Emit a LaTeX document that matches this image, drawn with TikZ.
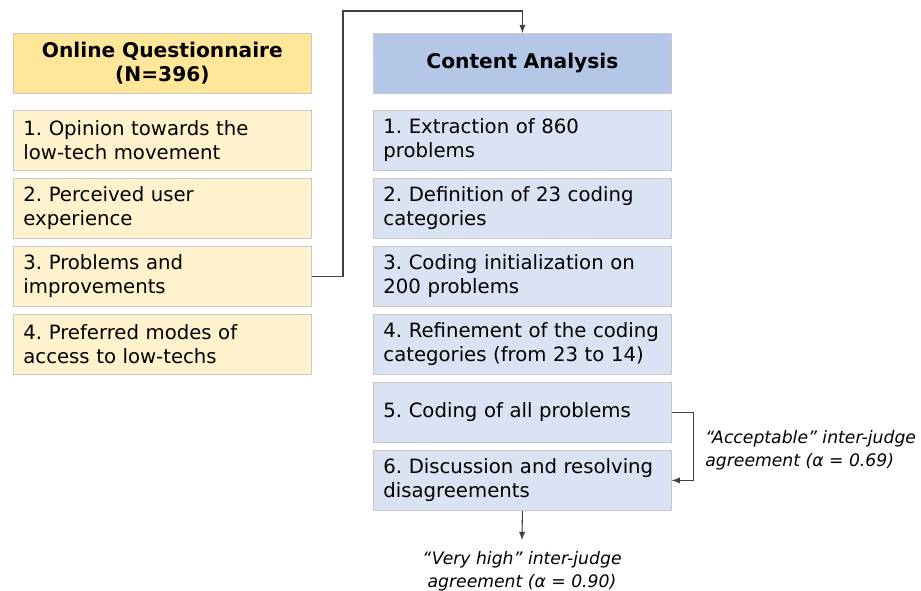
\documentclass[tikz,border=0pt]{standalone}
\usepackage{fontspec}
\setmainfont{DejaVu Sans}
\usetikzlibrary{arrows}
\definecolor{qhead}{HTML}{FFE699}
\definecolor{qitem}{HTML}{FFF2CC}
\definecolor{chead}{HTML}{B4C7E7}
\definecolor{citem}{HTML}{DAE3F3}
\definecolor{boxline}{HTML}{C9C9C9}
\definecolor{linkline}{HTML}{404040}
\frenchspacing
\begin{document}
\begin{tikzpicture}[>=latex,x=0.02cm,y=-0.02cm,
  box/.style={draw=boxline,line width=0.5pt,anchor=north west,minimum width=5.96cm,minimum height=1.2cm,
    inner xsep=0.2cm,font=\fontsize{11.2}{13.7}\selectfont},
  head/.style={box,align=center,text width=5.56cm,font=\fontsize{11.5}{13.7}\selectfont\bfseries},
  item/.style={box,align=left,text width=5.56cm},
  link/.style={draw=linkline,line width=0.6pt},
  note/.style={font=\fontsize{9.8}{13}\selectfont\itshape,inner sep=0pt}]
\useasboundingbox (0,0) rectangle (921,591);
\node[head,fill=qhead] (q0) at (13,33) {Online Questionnaire\\(N=396)};
\node[head,fill=chead] (c0) at (373,33) {Content Analysis};
\foreach \i/\txt in {1/{1. Opinion towards the\\low-tech movement},
    2/{2. Perceived user\\experience},
    3/{3. Problems and\\improvements},
    4/{4. Preferred modes of\\access to low-techs}} {
  \node[item,fill=qitem] (q\i) at (13,42+68*\i) {\txt};
}
\foreach \i/\txt in {1/{1. Extraction of 860\\problems},
    2/{2. Definition of 23 coding\\categories},
    3/{3. Coding initialization on\\200 problems},
    4/{4. Refinement of the coding\\categories (from 23 to 14)},
    5/{5. Coding of all problems},
    6/{6. Discussion and resolving\\disagreements}} {
  \node[item,fill=citem] (c\i) at (373,42+68*\i) {\txt};
}
\coordinate (bend) at (343,11);
\draw[link,->] (q3.east) -| (bend) -| (c0.north);
\draw[link,->] (c5.east) -- ++(22,0) |- (c6.east);
\node[note,anchor=west,align=left] (agree1) at (705,450) {“Acceptable” inter-judge\\agreement (α = 0.69)};
\node[note,anchor=north,align=center,inner ysep=0.22cm] (agree2) at (522,540) {“Very high” inter-judge\\agreement (α = 0.90)};
\draw[link,->] (c6.south) -- (agree2.north);
\end{tikzpicture}
\end{document}
